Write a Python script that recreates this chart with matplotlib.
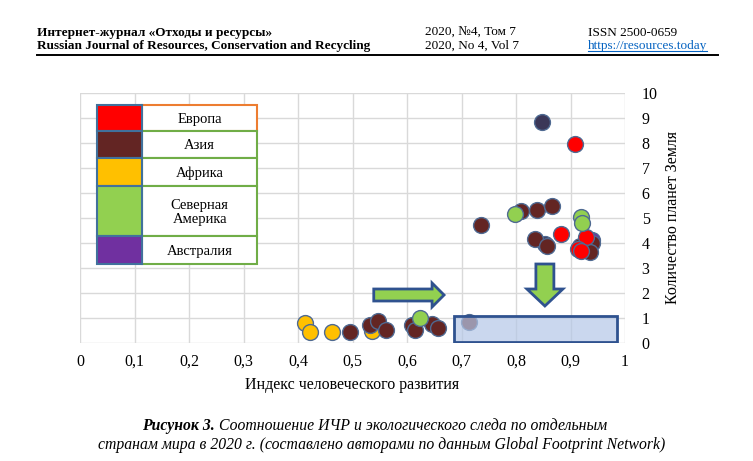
import matplotlib
matplotlib.use('Agg')
import matplotlib.pyplot as plt
from matplotlib.patches import Rectangle, FancyArrow
from matplotlib.lines import Line2D

plt.rcParams['font.family'] = ['Liberation Serif', 'DejaVu Serif']

# --- data ---
europe_x = [0.908, 0.882, 0.928, 0.913, 0.920]
europe_y = [7.95, 4.35, 4.25, 3.75, 3.69]

asia_x = [0.495, 0.532, 0.547, 0.561, 0.609, 0.615, 0.645, 0.657, 0.713,
          0.735, 0.809, 0.838, 0.866, 0.834, 0.856, 0.939, 0.917, 0.935]
asia_y = [0.45, 0.72, 0.89, 0.52, 0.72, 0.52, 0.76, 0.59, 0.85,
          4.73, 5.29, 5.32, 5.49, 4.16, 3.88, 3.99, 3.88, 3.64]

africa_x = [0.413, 0.422, 0.462, 0.535]
africa_y = [0.81, 0.43, 0.43, 0.48]

namerica_x = [0.623, 0.798, 0.919, 0.922]
namerica_y = [0.99, 5.16, 5.05, 4.79]

australia_x = [0.939]
australia_y = [4.12]

other_x = [0.848, 0.853]
other_y = [8.83, 3.95]

legend_names = ['Европа', 'Азия', 'Африка', 'Северная\nАмерика', 'Австралия']
legend_colors = ['#FF0000', '#632523', '#FFC000', '#92D050', '#7030A0']

x_ticks = [0, 0.1, 0.2, 0.3, 0.4, 0.5, 0.6, 0.7, 0.8, 0.9, 1]
x_tick_labels = ['0', '0,1', '0,2', '0,3', '0,4', '0,5', '0,6', '0,7', '0,8', '0,9', '1']
y_ticks = list(range(0, 11))

W, H = 753, 461
fig = plt.figure(figsize=(W / 100, H / 100), dpi=100)
fig.patch.set_facecolor('white')

def fx(px):
    return px / W

def fy(py):
    return 1 - py / H

# header
hdr = dict(fontsize=9.5, va='center')
fig.text(fx(37), fy(33), 'Интернет-журнал «Отходы и ресурсы»', fontweight='bold', **hdr)
fig.text(fx(37), fy(46), 'Russian Journal of Resources, Conservation and Recycling', fontweight='bold', **hdr)
fig.text(fx(425), fy(33), '2020, №4, Том 7', **hdr)
fig.text(fx(425), fy(46), '2020, No 4, Vol 7', **hdr)
fig.text(fx(588), fy(33), 'ISSN 2500-0659', **hdr)
url = fig.text(fx(588), fy(46), 'https://resources.today', color='#0563C1', **hdr)
fig.add_artist(Line2D([fx(37), fx(718)], [fy(55), fy(55)], color='black', lw=1.4))

# chart
ax = fig.add_axes([fx(80), fy(343), fx(625) - fx(80), fy(93) - fy(343)])
ax.set_xlim(0, 1)
ax.set_ylim(0, 10)
ax.set_xticks(x_ticks)
ax.set_xticklabels(x_tick_labels)
ax.set_yticks(y_ticks)
ax.yaxis.tick_right()
ax.yaxis.set_label_position('right')
ax.tick_params(axis='both', length=0, labelsize=11.5)
ax.tick_params(axis='y', pad=12)
ax.tick_params(axis='x', pad=8)
ax.grid(True, color='#D9D9D9', lw=1)
ax.set_axisbelow(True)
for s in ax.spines.values():
    s.set_visible(False)
ax.set_xlabel('Индекс человеческого развития', fontsize=11.5, labelpad=5)
ax.set_ylabel('Количество планет Земля', fontsize=11.5, labelpad=5)

mk = dict(s=130, edgecolors='#4F6A92', linewidths=1, zorder=3)
ax.scatter(africa_x, africa_y, c='#FFC000', **mk)
ax.scatter(other_x, other_y, c='#3B3758', **mk)
ax.scatter(australia_x, australia_y, c='#7030A0', **mk)
ax.scatter(asia_x, asia_y, c='#632523', **mk)
ax.scatter(europe_x, europe_y, c='#FF0000', **mk)
ax.scatter(namerica_x, namerica_y, c='#92D050', **mk)

# highlight box and arrows
ax.add_patch(Rectangle((0.686, 0.04), 0.299, 1.04, facecolor='#B4C7E7', alpha=0.7,
                       edgecolor='none', zorder=4))
ax.add_patch(Rectangle((0.686, 0.04), 0.299, 1.04, facecolor='none',
                       edgecolor='#2F528F', lw=2, zorder=5))
ax.add_patch(FancyArrow(0.539, 1.92, 0.129, 0, width=0.48, head_width=0.96,
                        head_length=0.022, length_includes_head=True,
                        facecolor='#92D050', edgecolor='#2F528F', lw=2, zorder=5))
ax.add_patch(FancyArrow(0.853, 3.16, 0, -1.68, width=0.033, head_width=0.066,
                        head_length=0.68, length_includes_head=True,
                        facecolor='#92D050', edgecolor='#2F528F', lw=2, zorder=5))

# colour key table
rows = [9.52, 8.48, 7.40, 6.28, 4.28, 3.16]
c0, c1, c2 = 0.031, 0.114, 0.325
for i, (name, col) in enumerate(zip(legend_names, legend_colors)):
    top, bot = rows[i], rows[i + 1]
    ax.add_patch(Rectangle((c1, bot), c2 - c1, top - bot, facecolor='white',
                           edgecolor='#ED7D31' if i == 0 else '#70AD47', lw=1.5, zorder=6))
    ax.add_patch(Rectangle((c0, bot), c1 - c0, top - bot, facecolor=col,
                           edgecolor='#41719C', lw=1.5, zorder=6))
    ax.text((c1 + c2) / 2, (top + bot) / 2 - 0.05, name, ha='center', va='center',
            fontsize=10.5, linespacing=1.1, zorder=7)

# caption
cap = dict(fontsize=11.3, va='center')
cap1a = fig.text(fx(142), fy(426), 'Рисунок 3.', fontweight='bold', style='italic', **cap)
fig.canvas.draw()
bb = cap1a.get_window_extent()
fig.text(bb.x1 / W + fx(4), fy(426), 'Соотношение ИЧР и экологического следа по отдельным',
         style='italic', **cap)
fig.text(fx(382), fy(445), 'странам мира в 2020 г. (составлено авторами по данным Global Footprint Network)',
         style='italic', ha='center', **cap)

# underline for url
ub = url.get_window_extent()
fig.add_artist(Line2D([ub.x0 / W, ub.x1 / W], [ub.y0 / H + 0.002, ub.y0 / H + 0.002],
                      color='#0563C1', lw=0.8))

fig.savefig('out.png', dpi=100)
